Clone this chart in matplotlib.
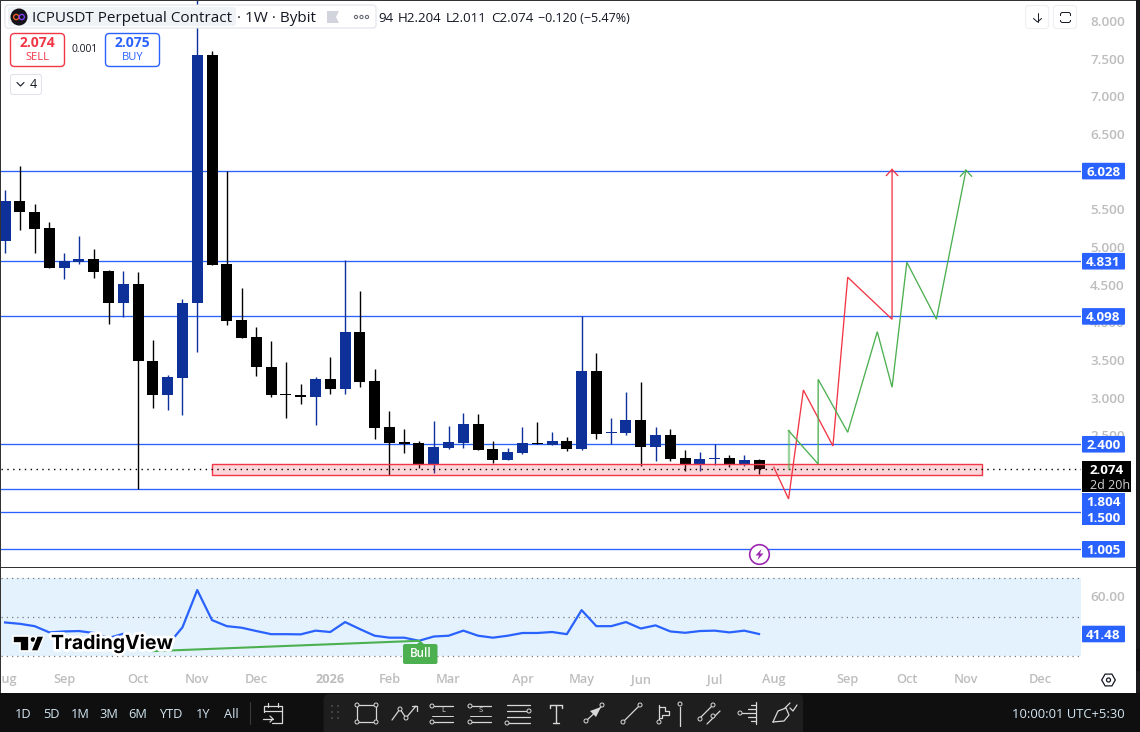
import matplotlib
matplotlib.use("Agg")
import matplotlib.pyplot as plt
from matplotlib.patches import Rectangle, FancyBboxPatch, Circle, Polygon, RegularPolygon
from matplotlib.transforms import ScaledTranslation
import matplotlib.patheffects as pe

plt.rcParams['font.family'] = ['Open Sans', 'DejaVu Sans']

# weekly candles, ICPUSDT
opens = [5.10, 5.63, 5.48, 5.27, 4.745, 4.825, 4.86, 4.70, 4.28, 4.53, 3.50, 3.06, 3.285,
         4.27, 7.57, 4.79, 4.05, 3.825, 3.42, 3.065, 3.055, 3.03, 3.27, 3.135, 3.89, 3.24,
         2.63, 2.43, 2.415, 2.14, 2.35, 2.415, 2.67, 2.34, 2.19, 2.285, 2.415, 2.39, 2.445,
         2.34, 3.37, 2.55, 2.55, 2.72, 2.365, 2.525, 2.22, 2.125, 2.205, 2.22, 2.125, 2.194]
highs = [5.78, 6.10, 5.59, 5.35, 4.94, 5.17, 4.99, 4.715, 4.70, 4.69, 3.785, 3.32, 4.33,
         8.40, 7.62, 6.03, 4.48, 3.96, 3.77, 3.49, 3.20, 3.295, 3.56, 4.85, 4.44, 3.40,
         2.84, 2.60, 2.445, 2.71, 2.645, 2.815, 2.80, 2.445, 2.35, 2.63, 2.70, 2.565, 2.50,
         4.10, 3.61, 2.75, 3.095, 3.23, 2.63, 2.60, 2.325, 2.30, 2.405, 2.26, 2.26, 2.204]
lows = [4.94, 5.25, 4.94, 4.745, 4.60, 4.79, 4.61, 4.00, 4.095, 1.804, 2.88, 2.855, 2.79,
        3.63, 4.785, 3.98, 3.81, 3.31, 3.03, 2.75, 2.935, 2.655, 3.07, 3.07, 3.16, 2.47,
        1.99, 2.285, 2.085, 2.02, 2.34, 2.35, 2.325, 2.15, 2.19, 2.27, 2.40, 2.39, 2.31,
        2.325, 2.47, 2.40, 2.525, 2.11, 2.18, 2.18, 2.045, 2.045, 2.125, 2.10, 2.11, 2.011]
closes = [5.63, 5.48, 5.26, 4.745, 4.83, 4.86, 4.69, 4.28, 4.53, 3.50, 3.06, 3.295, 4.28,
          7.57, 4.785, 4.04, 3.81, 3.42, 3.06, 3.055, 3.03, 3.27, 3.135, 3.89, 3.23, 2.62,
          2.42, 2.405, 2.14, 2.365, 2.43, 2.67, 2.325, 2.19, 2.30, 2.415, 2.405, 2.445, 2.34,
          3.37, 2.54, 2.565, 2.72, 2.365, 2.525, 2.205, 2.125, 2.205, 2.22, 2.125, 2.194, 2.074]

rsi = [47.4, 46.7, 45.5, 42.3, 42.8, 43.0, 42.0, 39.4, 41.6, 35.8, 33.4, 35.8, 44.9,
       64.0, 48.6, 45.5, 44.7, 43.0, 41.4, 41.4, 41.3, 43.2, 42.5, 47.6, 44.0, 40.6,
       39.6, 39.6, 38.0, 40.2, 40.6, 43.2, 40.6, 39.6, 40.6, 42.0, 42.0, 42.5, 41.4,
       53.7, 45.5, 45.5, 47.6, 44.3, 45.9, 42.8, 42.1, 43.0, 43.2, 42.3, 43.2, 41.48]

levels = [6.028, 4.831, 4.098, 2.400, 1.804, 1.500, 1.005]
last_price = 2.074

red_x = [52, 53, 54, 56, 57, 60, 60]
red_y = [2.095, 1.674, 3.121, 2.377, 4.618, 4.06, 6.05]
green_x = [53, 55, 55, 57, 59, 60, 61, 63, 65]
green_y = [2.581, 2.138, 3.263, 2.559, 3.895, 3.157, 4.817, 4.06, 6.04]
zone_x = [14, 66.05]
zone_y = [1.996, 2.134]
bull_x = [10, 28]
bull_y = [32.7, 38.0]

price_ticks = [8.0, 7.5, 7.0, 6.5, 5.5, 5.0, 4.5, 4.0, 3.5, 3.0, 2.5]
month_pos = [0, 4, 9, 13, 17, 22, 26, 30, 35, 39, 43, 48, 52, 57, 61, 65, 70]
month_names = ['Aug', 'Sep', 'Oct', 'Nov', 'Dec', '2026', 'Feb', 'Mar', 'Apr', 'May', 'Jun',
               'Jul', 'Aug', 'Sep', 'Oct', 'Nov', 'Dec']

W, H = 1140, 732
BLUE = '#0D3199'
TAG = '#2962FF'
RED = '#F23645'
GREEN = '#4CAF50'
GREY = '#BDBDBD'
BAR_TEXT = '#D3E6F2'
INK = '#131722'

fig = plt.figure(figsize=(W / 100, H / 100), dpi=100, facecolor='white')


def pane(x0, y0, x1, y1):
    return fig.add_axes([x0 / W, 1 - y1 / H, (x1 - x0) / W, (y1 - y0) / H])


ax = pane(1, 1, 1081, 567)
ax2 = pane(1, 568, 1081, 665)
top = pane(0, 0, W, H)
top.set_xlim(0, W)
top.set_ylim(H, 0)
top.axis('off')
top.patch.set_alpha(0)

xlim = (-0.274, 72.78)
ax.set_xlim(xlim)
ax.set_ylim(0.770, 8.287)
ax2.set_xlim(xlim)
ax2.set_ylim(25.6, 75.3)

# main pane
for lvl in levels:
    ax.axhline(lvl, color=TAG, lw=0.95, zorder=1)

colors = [BLUE if c >= o else 'black' for o, c in zip(opens, closes)]
idx = list(range(len(opens)))
ax.vlines(idx, lows, highs, colors=colors, lw=1.0, zorder=3)
ax.bar(idx, [abs(c - o) for o, c in zip(opens, closes)], bottom=[min(o, c) for o, c in zip(opens, closes)],
       width=0.745, color=colors, lw=0, zorder=4)

ax.add_patch(Rectangle((zone_x[0], zone_y[0]), zone_x[1] - zone_x[0], zone_y[1] - zone_y[0],
                       facecolor=(0.95, 0.21, 0.27, 0.2), edgecolor=RED, lw=1.0, zorder=5))
ax.axhline(last_price, color='black', lw=1.0, ls=(0, (1, 3.2)), zorder=6)

ax.plot(red_x, red_y, color=RED, lw=0.95, zorder=7, solid_joinstyle='miter')
ax.plot(green_x, green_y, color=GREEN, lw=0.95, zorder=7, solid_joinstyle='miter')
ax.plot([53, 53], [2.068, 2.581], color=GREEN, lw=1.7, alpha=0.55, zorder=7)
for xs, ys, c in [(red_x, red_y, RED), (green_x, green_y, GREEN)]:
    ax.plot([xs[-1] - 0.38, xs[-1], xs[-1] + 0.38], [ys[-1] - 0.08, ys[-1], ys[-1] - 0.08],
            color=c, lw=0.95, zorder=7)

# scale labels sit a little above their tick position
nudge = ScaledTranslation(0, 0.015, fig.dpi_scale_trans)

ax.yaxis.tick_right()
ax.set_yticks(price_ticks)
ax.set_yticklabels(['%.3f' % t for t in price_ticks], color=GREY, fontsize=9.7, fontweight='semibold',
                   va='center_baseline')
ax.tick_params(axis='y', length=0, pad=6.5)
for lab in ax.get_yticklabels():
    lab.set_transform(lab.get_transform() + nudge)
ax.set_xticks([])
for s in ax.spines.values():
    s.set_visible(False)

# rsi pane
ax2.add_patch(Rectangle((xlim[0], 30), xlim[1] - xlim[0], 40, facecolor='#E3F2FD', lw=0, zorder=1))
for v in [30, 50, 70]:
    ax2.axhline(v, color='#787B86', lw=0.9, ls=(0, (1, 3.2)), zorder=2)
ax2.plot(idx, rsi, color=TAG, lw=1.6, zorder=3)
ax2.plot(bull_x, bull_y, color=GREEN, lw=1.5, zorder=3)
ax2.yaxis.tick_right()
ax2.set_yticks([60])
ax2.set_yticklabels(['60.00'], color=GREY, fontsize=9.7, fontweight='semibold', va='center_baseline')
ax2.tick_params(axis='y', length=0, pad=6.5)
for lab in ax2.get_yticklabels():
    lab.set_transform(lab.get_transform() + nudge)
ax2.set_xticks(month_pos)
ax2.set_xticklabels(month_names, color=GREY, fontsize=9.2, fontweight='semibold')
ax2.get_xticklabels()[5].set_fontweight('bold')
ax2.tick_params(axis='x', length=0, pad=6)
for s in ax2.spines.values():
    s.set_visible(False)
fig.canvas.draw()


def y_px(a, val):
    return H - a.transData.transform((0, val))[1]


def x_px(a, val):
    return a.transData.transform((val, 0))[0]


def tag(y, txt, x0=1082, x1=1125, h=16.6, c=TAG):
    top.add_patch(FancyBboxPatch((x0 + 1, y - h / 2 + 1), x1 - x0 - 2, h - 2, boxstyle='round,pad=1',
                                 facecolor=c, lw=0, zorder=5))
    top.text((x0 + x1) / 2, y, txt, color='white', fontsize=9.6, fontweight='bold',
             ha='center', va='center_baseline', zorder=6)


def box(x0, y0, x1, y1, fc='white', ec='#E0E3EB', lw=0.8, r=3, z=5):
    top.add_patch(FancyBboxPatch((x0 + r, y0 + r), x1 - x0 - 2 * r, y1 - y0 - 2 * r,
                                 boxstyle='round,pad=%g' % r, facecolor=fc, edgecolor=ec, lw=lw, zorder=z))


def seg(pts, c='#D8D8D8', lw=0.9, z=8):
    top.plot([p[0] for p in pts], [p[1] for p in pts], color=c, lw=lw, zorder=z, solid_capstyle='round')


def dot(x, y, r=2.0, c='#D8D8D8', z=9, fc='#1E1E1E'):
    top.add_patch(Circle((x, y), r, facecolor=fc, edgecolor=c, lw=0.7, zorder=z))


# price tags on the right scale
for lvl in [6.028, 4.831, 4.098, 2.4, 1.005]:
    tag(y_px(ax, lvl), '%.3f' % lvl)
top.add_patch(Rectangle((1082, 493), 43, 32, facecolor=TAG, lw=0, zorder=5))
top.text(1103.5, 500.7, '1.804', color='white', fontsize=9.6, fontweight='bold', ha='center', va='center_baseline', zorder=6)
top.text(1103.5, 517.5, '1.500', color='white', fontsize=9.6, fontweight='bold', ha='center', va='center_baseline', zorder=6)
top.add_patch(Rectangle((1082, 461), 49, 31, facecolor='black', lw=0, zorder=7))
top.text(1090, 469.5, '%.3f' % last_price, color='white', fontsize=9.6, fontweight='bold', va='center_baseline', zorder=8)
top.text(1090, 484, '2d 20h', color='#D0D0D0', fontsize=9.0, va='center_baseline', zorder=8)
tag(y_px(ax2, rsi[-1]), '41.48')

# header
box(5, 5, 376, 28, ec='#E0E3EB')
box(8, 7, 236, 26, fc='#F0F3F5', ec='none', r=3)
top.add_patch(Circle((19, 17), 8.5, facecolor='#14141A', lw=0, zorder=6))
top.add_patch(Circle((16.2, 17), 2.6, facecolor='none', edgecolor='#F15A24', lw=1.0, zorder=7))
top.add_patch(Circle((21.8, 17), 2.6, facecolor='none', edgecolor='#7A3FF2', lw=1.0, zorder=7))
top.text(32, 17, 'ICPUSDT Perpetual Contract', color=INK, fontsize=11.0, va='center_baseline', zorder=8)
top.text(237, 17, '\u00b7 1W \u00b7 Bybit', color=INK, fontsize=11.0, va='center_baseline', zorder=8)
top.add_patch(Polygon([(327, 11), (339, 11), (336, 17), (339, 23), (327, 23)], facecolor='#D1D4DC', lw=0, zorder=8))
for cx in [356, 361.5, 367]:
    top.add_patch(Circle((cx, 17), 1.6, facecolor='white', edgecolor='#6A6D78', lw=0.8, zorder=8))
for txt, x, fs in [('94', 378, 9.6), ('H2.204', 398, 9.6), ('L2.011', 446, 9.6), ('C2.074', 491, 9.6),
                   ('\u22120.120 (\u22125.47%)', 538, 9.0)]:
    top.text(x, 17, txt, color=INK, fontsize=fs, va='center_baseline', zorder=8)

# sell / buy buttons
box(10.5, 33.5, 64.5, 66.5, ec=RED, lw=1.0, r=4)
top.text(37.5, 43, '2.074', color=RED, fontsize=10, fontweight='bold', ha='center', va='center', zorder=8)
top.text(37.5, 57, 'SELL', color=RED, fontsize=8, ha='center', va='center', zorder=8)
top.text(84.5, 50, '0.001', color=INK, fontsize=7.4, ha='center', va='center', zorder=8)
box(105.5, 33.5, 159.5, 66.5, ec=TAG, lw=1.0, r=4)
top.text(132.5, 43, '2.075', color=TAG, fontsize=10, fontweight='bold', ha='center', va='center', zorder=8)
top.text(132.5, 57, 'BUY', color=TAG, fontsize=8, ha='center', va='center', zorder=8)
box(10.5, 74.5, 41.5, 94.5, r=2.5)
seg([(17, 82.5), (20.5, 86), (24, 82.5)], c=INK, lw=0.8)
top.text(33.5, 85, '4', color=INK, fontsize=9, ha='center', va='center', zorder=8)

# buttons top right
box(1025.5, 5.5, 1048.5, 28.5, ec='#EDEFF3', r=3)
box(1053.5, 5.5, 1076.5, 28.5, ec='#EDEFF3', r=3)
seg([(1037.5, 13), (1037.5, 22)], c=INK, lw=0.7)
seg([(1033.5, 18.5), (1037.5, 22), (1041.5, 18.5)], c=INK, lw=0.7)
box(1060.5, 12.5, 1070.5, 22.5, ec=INK, lw=0.7, r=2)
top.add_patch(Rectangle((1059, 15.5), 13, 4, facecolor='white', lw=0, zorder=6))

# lightning badge
top.add_patch(Circle((759.5, 554.5), 9.8, facecolor='white', edgecolor='#9C27B0', lw=1.2, zorder=8))
top.add_patch(Polygon([(761.5, 549), (755.5, 555.5), (759, 555.5), (757.5, 560), (763.5, 553.5), (760, 553.5)],
                      facecolor='#9C27B0', lw=0, zorder=9))

# bull label
bx = x_px(ax2, bull_x[1]) + 1.5
box(bx - 17.5, 644, bx + 17, 664, fc=GREEN, ec='none', r=2)
top.add_patch(Polygon([(bx - 4, 644.5), (bx, 641), (bx + 4, 644.5)], facecolor=GREEN, lw=0, zorder=5))
top.text(bx, 653.5, 'Bull', color='white', fontsize=8.4, fontweight='semibold', ha='center', va='center', zorder=6)

# watermark
halo = [pe.withStroke(linewidth=4, foreground='white')]
top.add_patch(Polygon([(13, 636), (29, 636), (29, 651), (20, 651), (20, 643), (13, 643)],
                      facecolor='black', edgecolor='white', lw=1.2, zorder=6))
top.add_patch(Circle((33, 639.5), 3.0, facecolor='black', edgecolor='white', lw=1, zorder=6))
top.add_patch(Polygon([(37, 636), (44, 636), (38, 651), (31, 651)], facecolor='black', edgecolor='white', lw=1, zorder=6))
top.text(51, 643.5, 'TradingView', color='black', fontsize=14.0, fontweight='bold', family=['Inter', 'DejaVu Sans'],
         va='center', path_effects=halo, zorder=6)

# settings icon on the time scale
top.add_patch(RegularPolygon((1108.5, 680), 6, radius=6.8, orientation=0.52, facecolor='white', edgecolor=INK, lw=0.9, zorder=6))
top.add_patch(Circle((1108.5, 680), 2, facecolor='white', edgecolor=INK, lw=0.9, zorder=7))

# pane frame
top.add_patch(Rectangle((0, 567), 1137, 1.3, facecolor='#333333', lw=0, zorder=4))
top.add_patch(Rectangle((0, 0), W, 1, facecolor='#333333', lw=0, zorder=4))
top.add_patch(Rectangle((0, 0), 1, 693, facecolor='#333333', lw=0, zorder=4))
top.add_patch(Rectangle((1136, 0), 4, 693, facecolor='#1A1A1A', lw=0, zorder=4))
top.add_patch(FancyBboxPatch((1137, 650), 3, 20, boxstyle='round,pad=1', facecolor='#111111', lw=0, zorder=4))

# bottom toolbar
top.add_patch(Rectangle((0, 693), W, 39, facecolor='#0F0F0F', lw=0, zorder=4))
for label, x in [('1D', 23.5), ('5D', 51), ('1M', 80), ('3M', 109), ('6M', 138), ('YTD', 171), ('1Y', 203.5), ('All', 231)]:
    top.text(x, 713, label, color=BAR_TEXT, fontsize=9.2, ha='center', va='center_baseline', zorder=6)
seg([(250, 702), (250, 724)], c='#3A3A3A', lw=0.8)
top.text(1125, 713, '10:00:01 UTC+5:30', color=BAR_TEXT, fontsize=9.4, ha='right', va='center_baseline', zorder=6)

# calendar icon
seg([(264, 712), (264, 706), (282, 706), (282, 723), (272, 723)])
seg([(264, 711), (282, 711)])
seg([(268, 703), (268, 707)])
seg([(278, 703), (278, 707)])
seg([(263, 719), (273, 719)])
seg([(270, 716), (273, 719), (270, 722)])

# drawing tools panel
box(323.5, 694, 803, 740, fc='#1E1E1E', ec='none', r=6, z=5)
for gx in [332, 338]:
    for gy in [706, 712, 718]:
        top.add_patch(Circle((gx, gy), 0.9, facecolor='#555555', lw=0, zorder=8))

seg([(357, 705), (376, 705), (376, 722), (357, 722), (357, 705)])
for p in [(357, 705), (376, 705), (376, 722), (357, 722)]:
    dot(*p)

seg([(392, 720), (400, 709), (406, 718), (416, 706)])
seg([(412, 706), (417, 706), (417, 711)])
dot(400, 709)
dot(406, 718)

for x0, s in [(432, 'L'), (470, 'S')]:
    seg([(x0 + 2, 706), (x0 + 21, 706)])
    seg([(x0, 722), (x0 + 21, 722)])
    seg([(x0, 716), (x0 + 21, 716)], lw=0.7)
    dot(x0, 706)
    dot(x0, 722)
    top.text(x0 + 11, 711, s, color='#D8D8D8', fontsize=5.5, ha='center', va='center', zorder=8)

for y in [705, 711, 717, 723]:
    seg([(507, y), (530, y)])
dot(529, 711)
dot(507, 723)

seg([(550, 705), (562, 705)], lw=1.0)
seg([(556, 705), (556, 723)], lw=1.0)
seg([(550, 705), (550, 708)], lw=1.0)
seg([(562, 705), (562, 708)], lw=1.0)
seg([(553, 723), (559, 723)], lw=1.0)

seg([(586, 721), (602, 706)])
top.add_patch(Polygon([(601, 707), (590, 711), (596, 717)], facecolor='#D8D8D8', lw=0, zorder=8))
dot(586, 721)
dot(602, 705)

seg([(623, 722), (640, 705)])
dot(623, 722)
dot(640, 705)

seg([(659, 705), (659, 722)])
seg([(659, 707), (665, 707), (665, 711), (669, 711), (669, 715), (662, 715), (662, 718), (659, 718)])
dot(659, 722)
seg([(680, 707), (680, 726)])
dot(680, 704)

seg([(700, 718), (713, 705)])
seg([(707, 724), (720, 711)])
dot(700, 719)
dot(713, 705)
dot(713, 716)

seg([(756, 702), (756, 724)])
seg([(742, 713), (756, 713)])
seg([(748, 709), (756, 709)])
seg([(748, 717), (756, 717)])
seg([(751, 705), (756, 705)])
seg([(751, 721), (756, 721)])
dot(740, 713)

seg([(773, 722), (778, 711), (786, 708), (789, 715), (784, 721), (773, 722)])
seg([(785, 708), (790, 703)])
seg([(790, 708), (793, 711), (797, 705)])

fig.savefig("out.png", dpi=100)
